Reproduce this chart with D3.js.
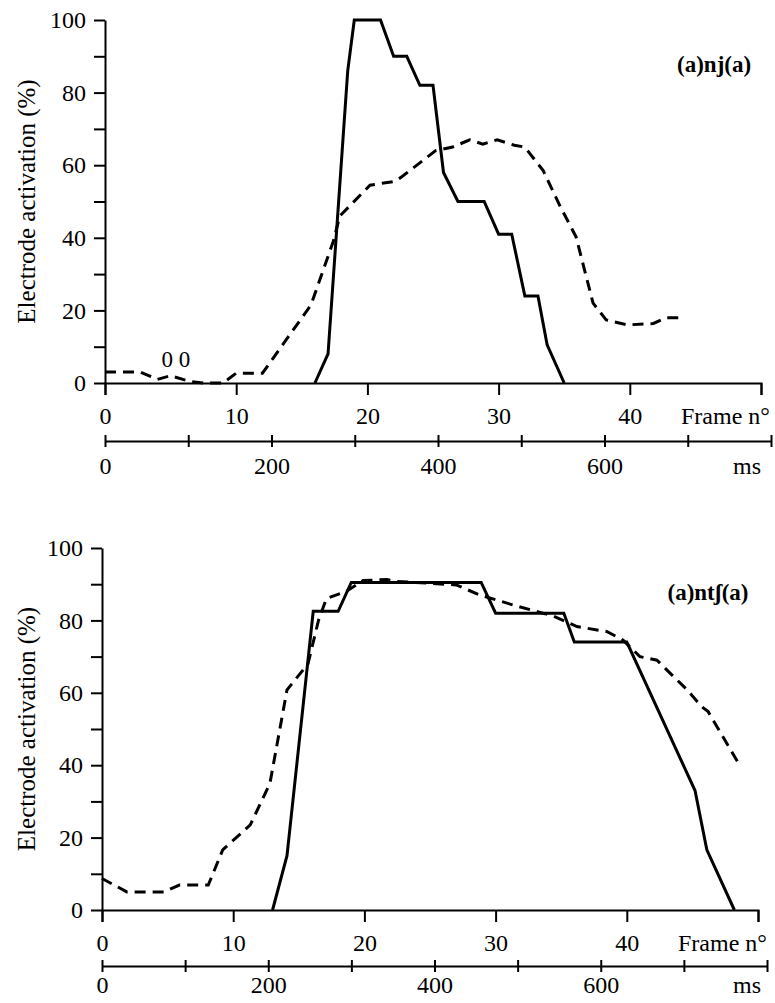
<!DOCTYPE html>
<meta charset="utf-8">
<style>
  body { margin: 0; background: #fff; }
  svg { display: block; }
  text { font-family: "Liberation Serif", "Times New Roman", serif; fill: #000; }
  .axis path, .axis line { stroke: #000; stroke-width: 2; }
  .axis text { font-size: 24px; }
  .title { font-size: 25px; }
  .tag { font-size: 23px; font-weight: bold; }
  .curve { fill: none; stroke: #000; stroke-width: 3; }
  .dashed { stroke-dasharray: 11,7; }
</style>
<body>
<script src="https://cdn.jsdelivr.net/npm/d3@7"></script>
<script>

    // tick values
    var frameTicks = [0, 10, 20, 30, 40, 50];
    var msTicks = [0, 100, 200, 300, 400, 500, 600, 700, 800];
    var yTicks = [0, 10, 20, 30, 40, 50, 60, 70, 80, 90, 100];

    // (a)nj(a) : solid
    var njSolidFrames = [16, 17, 18.5, 19, 21, 22, 23, 24, 25, 25.8, 26.9, 28.9, 30, 31, 32, 33, 33.7, 35];
    var njSolidValues = [0, 8, 86, 100, 100, 90, 90, 82, 82, 58, 50, 50, 41, 41, 24, 24, 10.5, 0];

    // (a)nj(a) : dashed
    var njDashFrames = [0, 2.7, 4, 5, 6.5, 7.5, 9, 10, 12, 15.7, 17.4, 17.9, 20.2, 22, 22.5, 25.2, 26.5, 27.8, 28.8, 29.9, 31.2, 32, 33.4, 34.7, 35.9, 37.2, 38.2, 39.8, 41.8, 42.8, 43.8];
    var njDashValues = [3, 3, 1, 2, 0.4, 0, 0, 2.7, 2.7, 21.5, 39, 46, 54.5, 55.5, 56.5, 64, 65, 67, 65.8, 67, 65.5, 65, 58.5, 48.6, 40.3, 22, 17.4, 16, 16.4, 18, 18];

    // (a)ntʃ(a) : solid
    var ntshSolidFrames = [13, 14.1, 16.1, 18, 19, 28.9, 30, 35.2, 36, 40, 45.2, 46.1, 48.2];
    var ntshSolidValues = [0, 15, 82.5, 82.5, 90.5, 90.5, 82, 82, 74, 74, 33, 16.6, 0];

    // (a)ntʃ(a) : dashed
    var ntshDashFrames = [0, 1.9, 4.7, 5.9, 8.1, 9.2, 11.3, 12.8, 14.1, 15.7, 16.5, 17.1, 18.6, 19.9, 21.7, 22.4, 27, 28.8, 31.3, 34.4, 36.2, 38.5, 39.7, 41, 42.3, 44.6, 45.7, 46.2, 48.6];
    var ntshDashValues = [8.7, 5, 5, 6.9, 6.9, 16.6, 23.5, 35, 60.8, 68, 80, 86, 88, 91, 91.3, 90.8, 89.8, 87, 84.3, 81.2, 78.3, 76.9, 74.6, 70, 69, 60.8, 56.2, 54.8, 40];

    var svg = d3.select("body").append("svg")
        .attr("width", 775)
        .attr("height", 1003);

    function panel(p) {
        var x = d3.scaleLinear().domain([0, 50]).range([p.left, p.right]);
        var y = d3.scaleLinear().domain([0, 100]).range([p.bottom, p.top]);
        var ms = d3.scaleLinear().domain([0, 800]).range([p.left, p.msRight]);

        var g = svg.append("g");

        g.append("g")
            .attr("class", "axis")
            .attr("transform", "translate(" + p.left + ",0)")
            .call(d3.axisLeft(y).tickValues(yTicks).tickSize(11).tickSizeOuter(0).tickPadding(8)
                .tickFormat(function(d) { return d % 20 === 0 ? d : ""; }));

        g.append("g")
            .attr("class", "axis")
            .attr("transform", "translate(0," + p.bottom + ")")
            .call(d3.axisBottom(x).tickValues(frameTicks).tickSize(12).tickSizeOuter(12).tickPadding(12)
                .tickFormat(function(d) { return d < 50 ? d : ""; }));

        var msAxis = g.append("g")
            .attr("class", "axis")
            .attr("transform", "translate(0," + p.msY + ")")
            .call(d3.axisBottom(ms).tickValues(msTicks).tickSizeOuter(0)
                .tickFormat(function(d) { return (d % 200 === 0 && d < 800) ? d : ""; }));
        msAxis.selectAll(".tick line").attr("y1", -6).attr("y2", 6);
        msAxis.selectAll(".tick text").attr("y", p.msText).attr("dy", 0);

        g.append("text")
            .attr("x", p.frameLabelX)
            .attr("y", p.bottom + 41)
            .style("font-size", "24px")
            .text("Frame n°");

        g.append("text")
            .attr("x", p.msLabelX)
            .attr("y", p.msY + p.msText)
            .style("font-size", "24px")
            .text("ms");

        g.append("text")
            .attr("class", "title")
            .attr("text-anchor", "middle")
            .attr("transform", "translate(35," + (p.top + p.bottom) / 2 + ") rotate(-90)")
            .text("Electrode activation (%)");

        g.append("text")
            .attr("class", "tag")
            .attr("x", x(p.tag[1]))
            .attr("y", y(p.tag[2]))
            .text(p.tag[0]);

        var line = d3.line()
            .x(function(d) { return x(d[0]); })
            .y(function(d) { return y(d[1]); });

        g.append("path")
            .attr("class", "curve dashed")
            .attr("d", line(d3.zip(p.dashFrames, p.dashValues)));

        g.append("path")
            .attr("class", "curve")
            .attr("d", line(d3.zip(p.solidFrames, p.solidValues)));

        return {x: x, y: y, g: g};
    }

    var panelTop = panel({
        left: 105, right: 761, top: 20, bottom: 383, msRight: 771, msY: 441, msText: 33,
        frameLabelX: 681, msLabelX: 733,
        tag: ["(a)nj(a)", 43.6, 85.7],
        solidFrames: njSolidFrames, solidValues: njSolidValues,
        dashFrames: njDashFrames, dashValues: njDashValues
    });

    panelTop.g.append("text")
        .attr("x", panelTop.x(5.4))
        .attr("y", panelTop.y(4.4))
        .attr("text-anchor", "middle")
        .style("font-size", "23px")
        .text("0 0");

    panel({
        left: 102, right: 758, top: 548, bottom: 910, msRight: 767, msY: 966, msText: 27,
        frameLabelX: 678, msLabelX: 733,
        tag: ["(a)ntʃ(a)", 43.1, 85.6],
        solidFrames: ntshSolidFrames, solidValues: ntshSolidValues,
        dashFrames: ntshDashFrames, dashValues: ntshDashValues
    });

</script>
